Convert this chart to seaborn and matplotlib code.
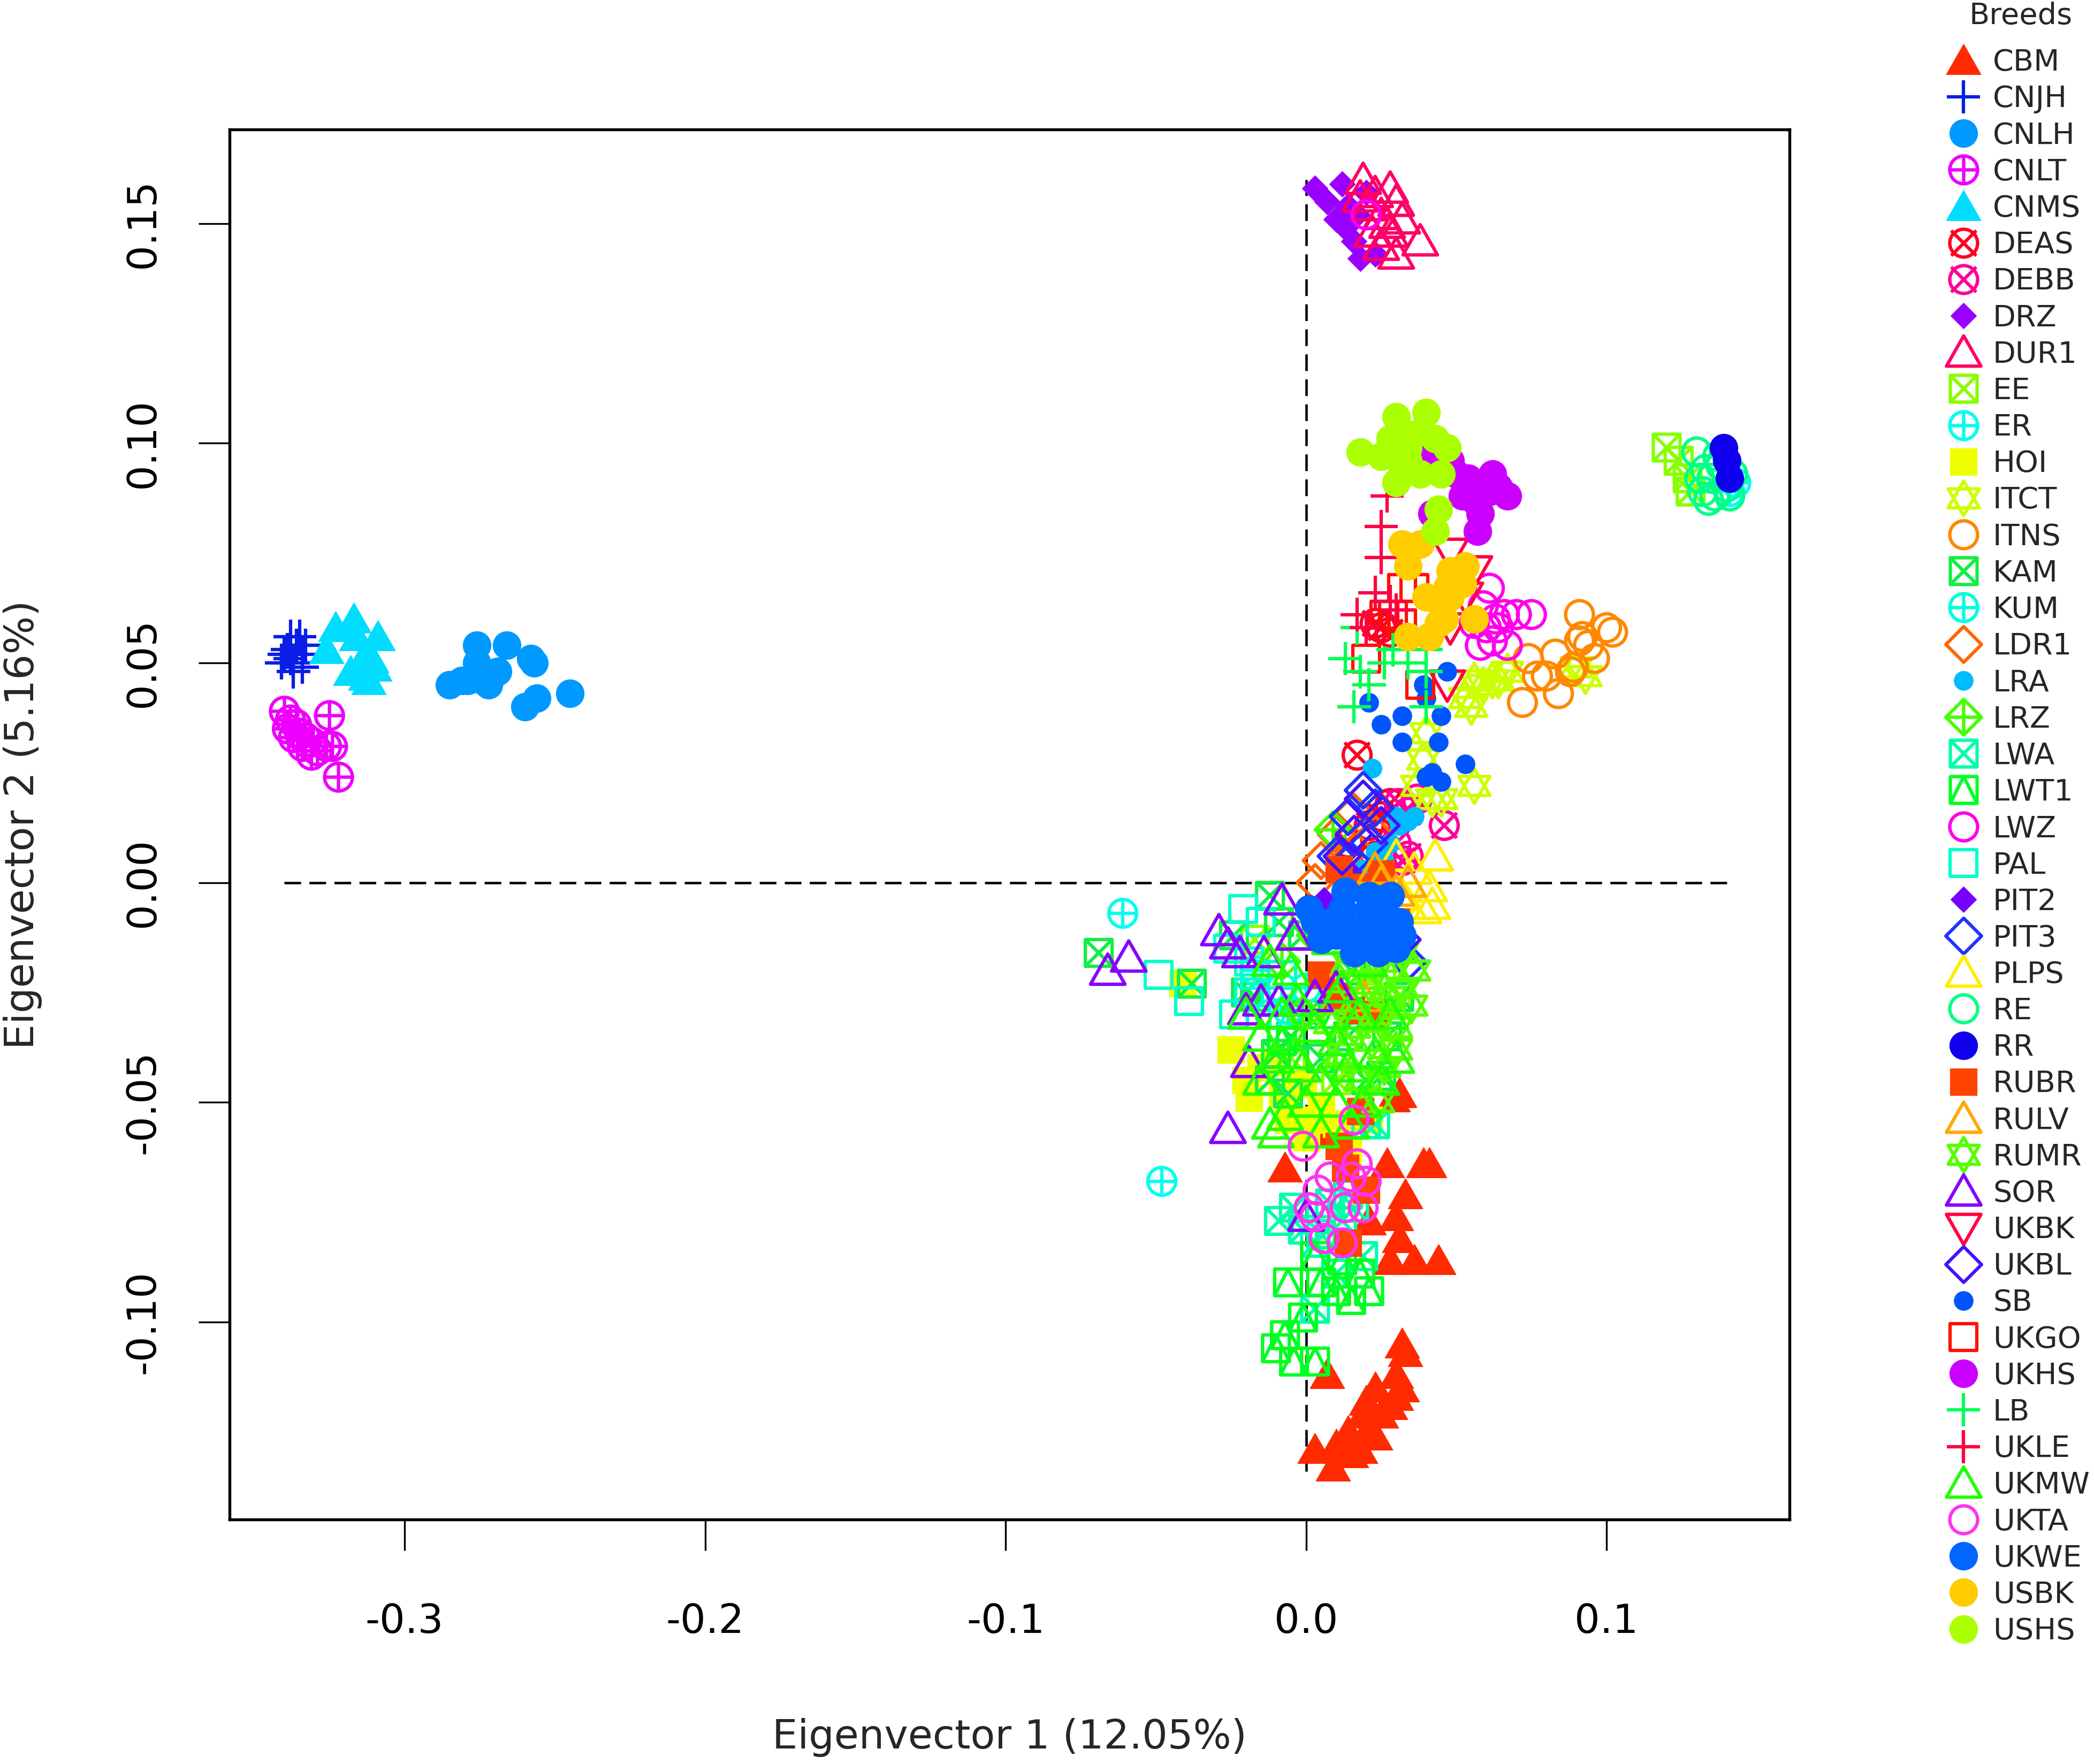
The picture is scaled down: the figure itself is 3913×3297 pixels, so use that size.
import numpy as np
import pandas as pd
import seaborn as sns
import matplotlib.pyplot as plt
from matplotlib.path import Path
from matplotlib.lines import Line2D

# breeds in legend order
breeds = ["CBM", "CNJH", "CNLH", "CNLT", "CNMS", "DEAS", "DEBB", "DRZ", "DUR1", "EE",
          "ER", "HOI", "ITCT", "ITNS", "KAM", "KUM", "LDR1", "LRA", "LRZ", "LWA",
          "LWT1", "LWZ", "PAL", "PIT2", "PIT3", "PLPS", "RE", "RR", "RUBR", "RULV",
          "RUMR", "SOR", "UKBK", "UKBL", "SB", "UKGO", "UKHS", "LB", "UKLE", "UKMW",
          "UKTA", "UKWE", "USBK", "USHS"]

# R pch symbol and colour of each breed
pch = {"CBM": 17, "CNJH": 3, "CNLH": 16, "CNLT": 10, "CNMS": 17, "DEAS": 13, "DEBB": 13,
       "DRZ": 18, "DUR1": 2, "EE": 7, "ER": 10, "HOI": 15, "ITCT": 11, "ITNS": 1, "KAM": 7,
       "KUM": 10, "LDR1": 5, "LRA": 20, "LRZ": 9, "LWA": 7, "LWT1": 14, "LWZ": 1, "PAL": 0,
       "PIT2": 18, "PIT3": 5, "PLPS": 2, "RE": 1, "RR": 16, "RUBR": 15, "RULV": 2, "RUMR": 11,
       "SOR": 2, "UKBK": 6, "UKBL": 5, "SB": 20, "UKGO": 0, "UKHS": 16, "LB": 3, "UKLE": 3,
       "UKMW": 2, "UKTA": 1, "UKWE": 16, "USBK": 16, "USHS": 16}

colors = {"CBM": "#FF2A00", "CNJH": "#0A1EE8", "CNLH": "#0099FF", "CNLT": "#EE00FF",
          "CNMS": "#00DDFF", "DEAS": "#FF0022", "DEBB": "#FF0099", "DRZ": "#9900FF",
          "DUR1": "#FF0066", "EE": "#88FF00", "ER": "#00FFEE", "HOI": "#EEFF00",
          "ITCT": "#CCFF00", "ITNS": "#FF8800", "KAM": "#11EE44", "KUM": "#00FFDD",
          "LDR1": "#FF6600", "LRA": "#00BBFF", "LRZ": "#44FF00", "LWA": "#00FFAA",
          "LWT1": "#00FF22", "LWZ": "#FF00EE", "PAL": "#00FFCC", "PIT2": "#7700FF",
          "PIT3": "#2233FF", "PLPS": "#FFEE00", "RE": "#00FF88", "RR": "#1100EE",
          "RUBR": "#FF4400", "RULV": "#FFAA00", "RUMR": "#55FF00", "SOR": "#8800FF",
          "UKBK": "#FF0044", "UKBL": "#4411FF", "SB": "#0055FF", "UKGO": "#FF1100",
          "UKHS": "#CC00FF", "LB": "#00FF55", "UKLE": "#FF0044", "UKMW": "#22FF00",
          "UKTA": "#FF33EE", "UKWE": "#0066FF", "USBK": "#FFCC00", "USHS": "#AAFF00"}

# eigenvector 1 / eigenvector 2 per animal
CBM = [(-0.007, -0.065), (0.003, -0.057), (0.029, -0.049), (0.031, -0.048), (0.027, -0.064),
       (0.033, -0.071), (0.030, -0.076), (0.039, -0.064), (0.041, -0.064), (0.021, -0.077),
       (0.028, -0.086), (0.036, -0.086), (0.044, -0.086), (0.032, -0.105), (0.033, -0.107),
       (0.007, -0.112), (0.030, -0.112), (0.023, -0.115), (0.028, -0.119), (0.019, -0.121),
       (0.025, -0.121), (0.014, -0.125), (0.021, -0.124), (0.010, -0.128), (0.003, -0.129),
       (0.018, -0.129), (0.009, -0.133), (0.015, -0.130), (0.030, -0.117), (0.023, -0.126),
       (0.032, -0.115), (0.020, -0.118), (0.031, -0.081)]
CNJH = [(-0.338, 0.056), (-0.336, 0.054), (-0.340, 0.052), (-0.334, 0.052), (-0.337, 0.050),
        (-0.341, 0.050), (-0.333, 0.054), (-0.337, 0.048), (-0.339, 0.053), (-0.335, 0.056),
        (-0.334, 0.049), (-0.338, 0.051)]
CNLH = [(-0.285, 0.045), (-0.276, 0.054), (-0.276, 0.050), (-0.279, 0.046), (-0.274, 0.046),
        (-0.271, 0.047), (-0.269, 0.048), (-0.266, 0.054), (-0.258, 0.051), (-0.257, 0.050),
        (-0.260, 0.040), (-0.256, 0.042), (-0.245, 0.043), (-0.281, 0.046), (-0.272, 0.045)]
CNLT = [(-0.340, 0.039), (-0.338, 0.037), (-0.336, 0.036), (-0.339, 0.035), (-0.335, 0.034),
        (-0.333, 0.033), (-0.337, 0.033), (-0.331, 0.032), (-0.334, 0.031), (-0.329, 0.030),
        (-0.326, 0.031), (-0.324, 0.031), (-0.331, 0.029), (-0.325, 0.038), (-0.322, 0.024)]
CNMS = [(-0.323, 0.058), (-0.317, 0.060), (-0.326, 0.053), (-0.316, 0.056), (-0.309, 0.056),
        (-0.313, 0.052), (-0.315, 0.049), (-0.312, 0.046), (-0.318, 0.048), (-0.310, 0.049),
        (-0.313, 0.047), (-0.311, 0.051)]
DEAS = [(0.025, 0.058), (0.028, 0.057), (0.023, 0.059), (0.017, 0.029), (0.021, 0.013),
        (0.025, 0.015), (0.014, 0.009), (0.023, 0.006), (0.028, 0.018)]
DEBB = [(0.031, 0.018), (0.046, 0.013), (0.034, 0.016), (0.037, 0.019), (0.030, 0.009),
        (0.032, 0.005), (0.034, 0.006)]
DRZ = [(0.003, 0.158), (0.007, 0.155), (0.012, 0.159), (0.010, 0.151), (0.013, 0.149),
       (0.016, 0.146), (0.018, 0.142), (0.014, 0.154), (0.023, 0.143), (0.017, 0.152),
       (0.020, 0.157)]
DUR1 = [(0.019, 0.160), (0.023, 0.157), (0.028, 0.158), (0.021, 0.154), (0.025, 0.152),
        (0.030, 0.155), (0.022, 0.148), (0.028, 0.148), (0.032, 0.151), (0.038, 0.146),
        (0.030, 0.143), (0.025, 0.145), (0.018, 0.156), (0.027, 0.150)]
EE = [(0.120, 0.099), (0.124, 0.096), (0.127, 0.092), (0.128, 0.089), (-0.017, -0.013),
      (0.030, -0.027), (-0.005, -0.040), (0.010, -0.045), (0.025, -0.020)]
ER = [(-0.061, -0.007), (-0.048, -0.068), (0.143, 0.091), (0.141, 0.089)]
HOI = [(-0.025, -0.038), (-0.019, -0.049), (-0.015, -0.042), (-0.006, -0.054), (0.003, -0.054),
       (0.005, -0.051), (0.010, -0.055), (-0.010, -0.041), (-0.001, -0.046), (-0.041, -0.023),
       (0.014, -0.061), (0.021, -0.054), (-0.020, -0.045), (-0.008, -0.048), (0.000, -0.058),
       (0.012, -0.056)]
ITCT = [(0.056, 0.046), (0.053, 0.042), (0.055, 0.040), (0.059, 0.045), (0.062, 0.046),
        (0.064, 0.046), (0.067, 0.048), (0.090, 0.049), (0.093, 0.047), (0.040, 0.034),
        (0.039, 0.028), (0.037, 0.022), (0.042, 0.019), (0.056, 0.022), (0.045, 0.019)]
ITNS = [(0.091, 0.061), (0.100, 0.058), (0.102, 0.057), (0.092, 0.056), (0.094, 0.054),
        (0.091, 0.055), (0.096, 0.051), (0.089, 0.049), (0.083, 0.052), (0.080, 0.047),
        (0.077, 0.047), (0.074, 0.051), (0.084, 0.043), (0.072, 0.041), (0.088, 0.048)]
KAM = [(-0.069, -0.016), (-0.038, -0.023), (-0.012, -0.003), (-0.009, -0.009), (-0.017, -0.026),
       (-0.010, -0.039), (0.014, -0.035), (0.025, -0.044), (-0.006, -0.048), (0.031, -0.026),
       (-0.024, -0.012), (-0.001, -0.012), (-0.020, -0.025), (-0.005, -0.035), (0.005, -0.040),
       (0.015, -0.020), (0.020, -0.045), (-0.012, -0.045), (0.000, -0.030), (0.027, -0.035)]
KUM = [(-0.008, -0.024), (0.000, -0.024), (-0.017, -0.020), (-0.012, -0.030), (-0.006, -0.029)]
LDR1 = [(0.005, 0.005), (0.010, 0.011), (0.016, 0.016), (0.023, 0.011), (0.003, 0.000),
        (0.013, 0.006)]
LRA = [(0.022, 0.026), (0.030, 0.015), (0.034, 0.014), (0.036, 0.015), (0.023, 0.007),
       (0.028, 0.009), (0.031, 0.013), (0.019, 0.003), (0.012, 0.000), (0.026, 0.005)]
LRZ = [(0.009, 0.012), (0.003, -0.012), (0.014, -0.009), (-0.008, -0.018), (0.019, -0.024),
       (-0.001, -0.030), (0.010, -0.042)]
LWA = [(-0.009, -0.077), (-0.004, -0.074), (0.008, -0.073), (0.014, -0.071), (0.020, -0.055),
       (0.023, -0.055), (0.016, -0.074), (0.003, -0.082), (0.019, -0.085), (0.010, -0.089),
       (0.003, -0.097), (-0.001, -0.079), (0.012, -0.077), (0.005, -0.080)]
LWT1 = [(-0.010, -0.106), (-0.004, -0.109), (-0.007, -0.103), (0.003, -0.109), (-0.001, -0.099),
        (0.010, -0.093), (0.015, -0.095), (0.021, -0.093), (0.005, -0.091), (-0.006, -0.091),
        (0.018, -0.089), (0.003, -0.085), (0.012, -0.086), (-0.008, -0.036), (0.010, -0.030)]
LWZ = [(0.061, 0.067), (0.059, 0.063), (0.056, 0.059), (0.060, 0.058), (0.063, 0.060),
       (0.066, 0.061), (0.070, 0.061), (0.075, 0.061), (0.058, 0.054), (0.062, 0.055),
       (0.067, 0.054), (0.064, 0.058), (0.020, 0.152)]
PAL = [(-0.049, -0.021), (-0.039, -0.027), (-0.021, -0.006), (-0.019, -0.018), (-0.017, -0.021),
       (-0.026, -0.015), (-0.015, -0.009), (-0.019, -0.025), (-0.024, -0.030), (-0.008, -0.021)]
PIT2 = [(0.015, 0.002), (0.032, -0.017), (0.006, -0.004), (0.019, -0.009), (0.028, -0.015)]
PIT3 = [(0.019, 0.021), (0.014, 0.015), (0.023, 0.017), (0.010, 0.006), (0.015, 0.005),
        (0.021, 0.009), (0.030, -0.012), (0.034, -0.018)]
PLPS = [(0.030, 0.006), (0.036, 0.003), (0.041, -0.001), (0.039, -0.006), (0.032, -0.003),
        (0.028, 0.000), (0.043, 0.006), (0.034, -0.005), (0.042, -0.005)]
RE = [(0.130, 0.098), (0.133, 0.094), (0.135, 0.092), (0.138, 0.095), (0.140, 0.090),
      (0.132, 0.089), (0.136, 0.088), (0.142, 0.093), (0.131, 0.092), (0.137, 0.097),
      (0.134, 0.087), (0.141, 0.088)]
RR = [(0.139, 0.099), (0.140, 0.096), (0.141, 0.092)]
RUBR = [(0.011, 0.003), (0.019, -0.001), (0.025, 0.002), (0.005, -0.021), (0.010, -0.026),
        (0.015, -0.029), (0.018, -0.052), (0.011, -0.060), (0.020, -0.070), (0.014, -0.082),
        (0.023, -0.030), (0.013, -0.065), (0.030, -0.009)]
RULV = [(0.025, 0.000), (0.030, -0.002), (0.023, 0.003), (0.034, 0.000), (0.014, -0.018),
        (0.019, -0.026)]
RUMR = [(0.014, -0.018), (0.021, -0.023), (0.028, -0.026), (0.032, -0.024), (0.023, -0.030),
        (0.016, -0.033), (0.030, -0.033), (0.025, -0.018), (0.019, -0.013), (0.010, -0.027),
        (0.032, -0.016), (0.012, -0.039), (0.026, -0.042), (0.022, -0.036), (0.035, -0.028),
        (0.030, -0.038), (0.018, -0.045), (0.008, -0.032), (0.036, -0.020), (0.024, -0.050)]
SOR = [(-0.059, -0.017), (-0.066, -0.020), (-0.029, -0.011), (-0.026, -0.014), (-0.022, -0.016),
       (-0.014, -0.016), (-0.008, -0.004), (-0.015, -0.027), (-0.009, -0.027), (-0.020, -0.029),
       (0.003, -0.026), (0.010, -0.024), (-0.019, -0.041), (-0.026, -0.056), (0.000, -0.076),
       (-0.004, -0.012)]
UKBK = [(0.048, 0.075), (0.056, 0.071), (0.053, 0.065), (0.048, 0.058), (0.047, 0.045)]
UKBL = [(0.019, 0.019), (0.012, 0.006), (0.025, 0.013), (0.016, 0.011), (0.032, -0.013)]
SB = [(0.021, 0.041), (0.032, 0.038), (0.025, 0.036), (0.045, 0.038), (0.032, 0.032),
      (0.044, 0.032), (0.042, 0.025), (0.045, 0.023), (0.053, 0.027), (0.039, 0.045),
      (0.047, 0.048), (0.040, 0.042), (0.040, 0.024)]
UKGO = [(0.032, 0.067), (0.036, 0.067), (0.026, 0.061), (0.029, 0.061), (0.032, 0.059),
        (0.020, 0.051), (0.038, 0.045)]
UKHS = [(0.041, 0.098), (0.050, 0.093), (0.054, 0.092), (0.062, 0.093), (0.061, 0.089),
        (0.067, 0.088), (0.056, 0.087), (0.052, 0.088), (0.058, 0.084), (0.057, 0.080),
        (0.042, 0.084), (0.048, 0.096), (0.064, 0.090), (0.059, 0.091)]
LB = [(0.017, 0.058), (0.013, 0.051), (0.018, 0.048), (0.026, 0.050), (0.029, 0.053),
      (0.034, 0.050), (0.040, 0.053), (0.040, 0.048), (0.016, 0.040), (0.040, 0.040),
      (0.021, 0.045)]
UKLE = [(0.027, 0.088), (0.025, 0.081), (0.025, 0.074), (0.017, 0.061), (0.023, 0.066),
        (0.028, 0.064), (0.020, 0.058), (0.030, 0.062)]
UKMW = [(-0.010, -0.057), (-0.007, -0.053), (0.010, -0.050), (-0.015, -0.035), (-0.004, -0.039),
        (0.014, -0.042), (0.023, -0.039), (0.028, -0.030), (0.003, -0.033), (-0.008, -0.030),
        (0.012, -0.024), (0.021, -0.018), (-0.012, -0.018), (0.008, -0.013), (-0.001, -0.042),
        (-0.015, -0.045), (0.005, -0.057), (0.019, -0.050), (0.010, -0.036), (-0.020, -0.030),
        (-0.005, -0.020), (0.005, -0.045), (0.015, -0.055), (0.025, -0.045), (0.000, -0.050),
        (-0.010, -0.040), (0.018, -0.030), (0.030, -0.040), (-0.003, -0.027), (-0.012, -0.055)]
UKTA = [(-0.001, -0.060), (0.004, -0.070), (0.008, -0.067), (0.015, -0.067), (0.017, -0.064),
        (0.020, -0.068), (0.003, -0.076), (0.006, -0.081), (0.012, -0.082), (0.019, -0.074),
        (0.016, -0.054), (0.013, -0.074), (0.001, -0.074)]
UKWE = [(0.001, -0.006), (0.008, -0.009), (0.012, -0.006), (0.014, -0.010), (0.019, -0.012),
        (0.010, -0.012), (0.021, -0.006), (0.023, -0.009), (0.025, -0.007), (0.028, -0.012),
        (0.030, -0.015), (0.024, -0.016), (0.016, -0.016), (0.005, -0.013), (0.003, -0.009),
        (0.031, -0.009), (0.021, -0.003), (0.028, -0.003), (0.013, -0.002), (0.018, -0.013),
        (0.032, -0.012)]
USBK = [(0.032, 0.077), (0.038, 0.077), (0.034, 0.072), (0.053, 0.072), (0.050, 0.070),
        (0.047, 0.067), (0.044, 0.064), (0.040, 0.065), (0.048, 0.065), (0.052, 0.068),
        (0.056, 0.060), (0.046, 0.060), (0.034, 0.056), (0.041, 0.056), (0.044, 0.059),
        (0.048, 0.071)]
USHS = [(0.018, 0.098), (0.030, 0.106), (0.040, 0.107), (0.028, 0.101), (0.036, 0.102),
        (0.043, 0.101), (0.047, 0.099), (0.034, 0.096), (0.032, 0.093), (0.038, 0.093),
        (0.045, 0.093), (0.030, 0.091), (0.044, 0.085), (0.034, 0.099), (0.025, 0.097),
        (0.043, 0.080)]

points = {"CBM": CBM, "CNJH": CNJH, "CNLH": CNLH, "CNLT": CNLT, "CNMS": CNMS, "DEAS": DEAS,
          "DEBB": DEBB, "DRZ": DRZ, "DUR1": DUR1, "EE": EE, "ER": ER, "HOI": HOI, "ITCT": ITCT,
          "ITNS": ITNS, "KAM": KAM, "KUM": KUM, "LDR1": LDR1, "LRA": LRA, "LRZ": LRZ,
          "LWA": LWA, "LWT1": LWT1, "LWZ": LWZ, "PAL": PAL, "PIT2": PIT2, "PIT3": PIT3,
          "PLPS": PLPS, "RE": RE, "RR": RR, "RUBR": RUBR, "RULV": RULV, "RUMR": RUMR,
          "SOR": SOR, "UKBK": UKBK, "UKBL": UKBL, "SB": SB, "UKGO": UKGO, "UKHS": UKHS,
          "LB": LB, "UKLE": UKLE, "UKMW": UKMW, "UKTA": UKTA, "UKWE": UKWE, "USBK": USBK,
          "USHS": USHS}

x_ticks = [-0.3, -0.2, -0.1, 0.0, 0.1]
x_ticklabels = ["-0.3", "-0.2", "-0.1", "0.0", "0.1"]
y_ticks = [-0.10, -0.05, 0.00, 0.05, 0.10, 0.15]
y_ticklabels = ["-0.10", "-0.05", "0.00", "0.05", "0.10", "0.15"]
hline_span = [-0.34, 0.142]   # dashed line at y = 0
vline_span = [-0.134, 0.160]  # dashed line at x = 0

df = pd.concat([pd.DataFrame(points[b], columns=["ev1", "ev2"]).assign(breed=b) for b in breeds],
               ignore_index=True)

# --- R-like plotting symbols as matplotlib paths ---
M, L, C = Path.MOVETO, Path.LINETO, Path.CLOSEPOLY


def poly(pts):
    return Path(pts + [pts[0]], [M] + [L] * (len(pts) - 1) + [C])


def seg(a, b):
    return Path([a, b], [M, L])


circle = Path.unit_circle()
square = poly([(-1, -1), (1, -1), (1, 1), (-1, 1)])
diamond = poly([(0, -1), (1, 0), (0, 1), (-1, 0)])
tri_up = poly([(-1, -0.8), (1, -0.8), (0, 0.95)])
tri_dn = poly([(-1, 0.8), (1, 0.8), (0, -0.95)])
plus = Path.make_compound_path(seg((-1, 0), (1, 0)), seg((0, -1), (0, 1)))
xcross = Path.make_compound_path(seg((-1, -1), (1, 1)), seg((-1, 1), (1, -1)))

sym = {
    0: (square, False, 12.0), 1: (circle, False, 12.5), 2: (tri_up, False, 15.5),
    3: (plus, False, 15.0), 5: (diamond, False, 16.0), 6: (tri_dn, False, 15.5),
    7: (Path.make_compound_path(square, xcross), False, 12.0),
    9: (Path.make_compound_path(diamond, plus), False, 16.0),
    10: (Path.make_compound_path(circle, plus), False, 12.5),
    11: (Path.make_compound_path(poly([(-0.9, -0.55), (0.9, -0.55), (0, 1)]),
                                 poly([(-0.9, 0.55), (0.9, 0.55), (0, -1)])), False, 15.5),
    13: (Path.make_compound_path(circle, seg((-0.9, -0.9), (0.9, 0.9)),
                                 seg((-0.9, 0.9), (0.9, -0.9))), False, 12.5),
    14: (Path.make_compound_path(square, seg((-1, -1), (0, 1)), seg((0, 1), (1, -1))), False, 12.0),
    15: (square, True, 12.0), 16: (circle, True, 12.5), 17: (tri_up, True, 15.5),
    18: (diamond, True, 11.5), 20: (circle, True, 8.5),
}
lw = 1.5

sns.set_style("ticks")
plt.rcParams["font.family"] = ["DejaVu Sans"]

fig = plt.figure(figsize=(3913 / 300, 3297 / 300), dpi=300)
ax = fig.add_axes([0.1097, 0.1385, 0.7449, 0.7881])

ax.hlines(0, hline_span[0], hline_span[1], colors="black", linewidth=1.1,
          linestyles=(0, (6.8, 3.4)), zorder=1)
ax.vlines(0, vline_span[0], vline_span[1], colors="black", linewidth=1.1,
          linestyles=(0, (6.8, 3.4)), zorder=1)

handles = []
for b in breeds:
    path, filled, size = sym[pch[b]]
    col = colors[b]
    sub = df[df["breed"] == b]
    sns.scatterplot(data=sub, x="ev1", y="ev2", marker=path, s=size ** 2,
                    color=col if filled else "none", edgecolor=col,
                    linewidth=0.3 if filled else lw, ax=ax, legend=False, zorder=3)
    handles.append(Line2D([], [], linestyle="none", marker=path, markersize=size,
                          markerfacecolor=col if filled else "none", markeredgecolor=col,
                          markeredgewidth=0.3 if filled else lw, label=b))

ax.set_xlim(-0.3582, 0.1609)
ax.set_ylim(-0.145, 0.1714)
ax.set_xticks(x_ticks)
ax.set_xticklabels(x_ticklabels)
ax.set_yticks(y_ticks)
ax.set_yticklabels(y_ticklabels, rotation=90, va="center")
ax.tick_params(axis="both", direction="out", length=14, width=0.8, labelsize=18, colors="black")
ax.tick_params(axis="x", pad=23)
ax.tick_params(axis="y", pad=16)
for sp in ax.spines.values():
    sp.set_visible(True)
    sp.set_linewidth(1.3)
    sp.set_color("black")

ax.set_xlabel("Eigenvector 1 (12.05%)", fontsize=18)
ax.set_ylabel("Eigenvector 2 (5.16%)", fontsize=18)
ax.xaxis.label.set_va("center")
ax.yaxis.label.set_va("center")
ax.xaxis.set_label_coords(0.5, -0.1566)
ax.yaxis.set_label_coords(-0.1327, 0.5)

fig.text(1513 / 1568, 1 - 12 / 1321, "Breeds", ha="center", va="center", fontsize=13.4)
fig.legend(handles=handles, loc="upper left", bbox_to_anchor=(0.9277, 0.9743), frameon=False,
           fontsize=13.4, handlelength=1.2, handletextpad=0.38, labelspacing=0.254,
           borderpad=0.1, borderaxespad=0)

fig.savefig("out.png", dpi=300)
